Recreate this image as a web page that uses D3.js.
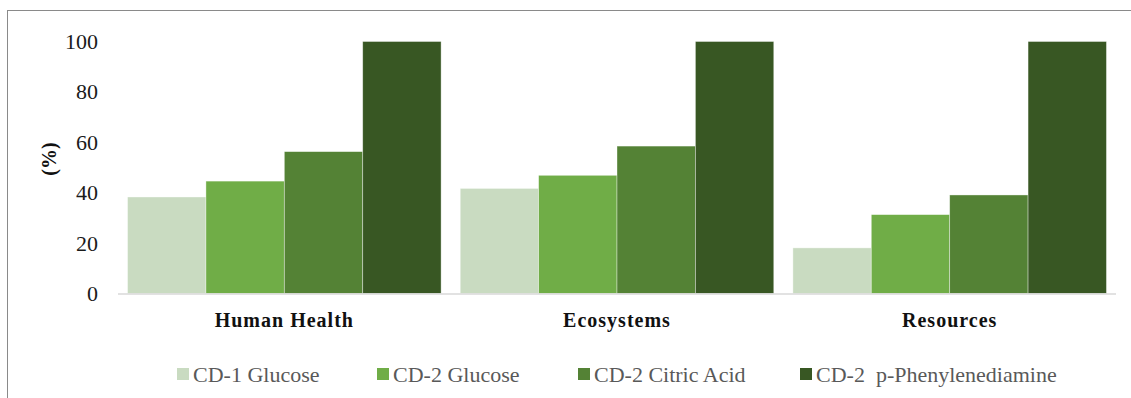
<!DOCTYPE html>
<html>
<head>
<meta charset="utf-8">
<script src="https://cdn.jsdelivr.net/npm/d3@7"></script>
<style>
  html, body { margin: 0; padding: 0; background: #fff; }
  svg { display: block; }
  svg text { font-family: "Liberation Serif", "Times New Roman", Times, serif; }
</style>
</head>
<body>
<svg id="chart" width="1131" height="398"></svg>
<script>
// Impact categories and the relative score (%) of each carbon-dot synthesis route
const categories = ["Human Health", "Ecosystems", "Resources"];
const seriesNames = ["CD-1 Glucose", "CD-2 Glucose", "CD-2 Citric Acid", "CD-2  p-Phenylenediamine"];
const cd1Glucose = [38.3, 41.7, 18.1];
const cd2Glucose = [44.6, 46.9, 31.3];
const cd2CitricAcid = [56.3, 58.5, 39.1];
const cd2Phenylenediamine = [100, 100, 100];
const yTicks = [0, 20, 40, 60, 80, 100];
const colors = ["#C9DBC1", "#70AD47", "#548235", "#385723"];

const seriesValues = [cd1Glucose, cd2Glucose, cd2CitricAcid, cd2Phenylenediamine];
const FONT = "'Liberation Serif', 'Times New Roman', Times, serif";

const svg = d3.select("#chart");
const W = 1131, H = 398;
const margin = { left: 118, right: 15, top: 41.5, bottom: 104.5 };
const plotW = W - margin.left - margin.right;
const plotH = H - margin.top - margin.bottom;

// outer frame
svg.append("rect")
  .attr("x", 7.5).attr("y", 10.5)
  .attr("width", W + 10).attr("height", H + 10)
  .attr("fill", "none").attr("stroke", "#8a8a8a").attr("stroke-width", 1);

const g = svg.append("g").attr("transform", `translate(${margin.left},${margin.top})`);

const x0 = d3.scaleBand().domain(categories).range([0, plotW]).paddingInner(0.0575).paddingOuter(0.0287);
const x1 = d3.scaleBand().domain(seriesNames).range([0, x0.bandwidth()]).padding(0);
const y = d3.scaleLinear().domain([0, 100]).range([plotH, 0]);

// y axis labels (no axis line, no ticks)
const yAxis = g.append("g").call(d3.axisLeft(y).tickValues(yTicks).tickSize(0).tickPadding(20));
yAxis.attr("font-family", null);
yAxis.select(".domain").remove();
yAxis.selectAll("text")
  .style("font-family", FONT)
  .style("font-size", "22px")
  .attr("fill", "#1a1a1a");

// bars
const groups = g.selectAll(".grp")
  .data(categories)
  .join("g")
  .attr("class", "grp")
  .attr("transform", d => `translate(${x0(d)},0)`);

groups.selectAll("rect")
  .data((c, i) => seriesNames.map((s, j) => ({ s, v: seriesValues[j][i], j })))
  .join("rect")
  .attr("x", d => x1(d.s))
  .attr("y", d => y(d.v))
  .attr("width", x1.bandwidth())
  .attr("height", d => y(0) - y(d.v))
  .attr("fill", d => colors[d.j])
  .attr("stroke", "#ffffff")
  .attr("stroke-opacity", 0.5)
  .attr("stroke-width", 0.75);

// baseline
g.append("line")
  .attr("x1", 0).attr("x2", plotW)
  .attr("y1", y(0) + 0.5).attr("y2", y(0) + 0.5)
  .attr("stroke", "#d9d9d9").attr("stroke-width", 1.5);

// category labels
g.append("g").selectAll("text")
  .data(categories)
  .join("text")
  .attr("x", d => x0(d) + x0.bandwidth() / 2)
  .attr("y", y(0) + 33)
  .attr("text-anchor", "middle")
  .style("font-family", FONT)
  .style("font-weight", "bold")
  .style("font-size", "20px")
  .style("letter-spacing", "1px")
  .attr("fill", "#111")
  .text(d => d);

// y axis title
svg.append("text")
  .attr("transform", `translate(56,159) rotate(-90)`)
  .attr("text-anchor", "middle")
  .style("font-family", FONT)
  .style("font-weight", "bold")
  .style("font-size", "20px")
  .attr("fill", "#111")
  .text("(%)");

// legend
const legendX = [177, 377, 578, 800];
const legend = svg.append("g").selectAll("g")
  .data(seriesNames)
  .join("g")
  .attr("transform", (d, i) => `translate(${legendX[i]},0)`);
legend.append("rect")
  .attr("x", 0).attr("y", 368)
  .attr("width", 12).attr("height", 12)
  .attr("fill", (d, i) => colors[i]);
legend.append("text")
  .attr("x", 16).attr("y", 382)
  .style("font-family", FONT)
  .style("font-size", "22px")
  .style("white-space", "pre")
  .attr("fill", "#595959")
  .text(d => d);
</script>
</body>
</html>
